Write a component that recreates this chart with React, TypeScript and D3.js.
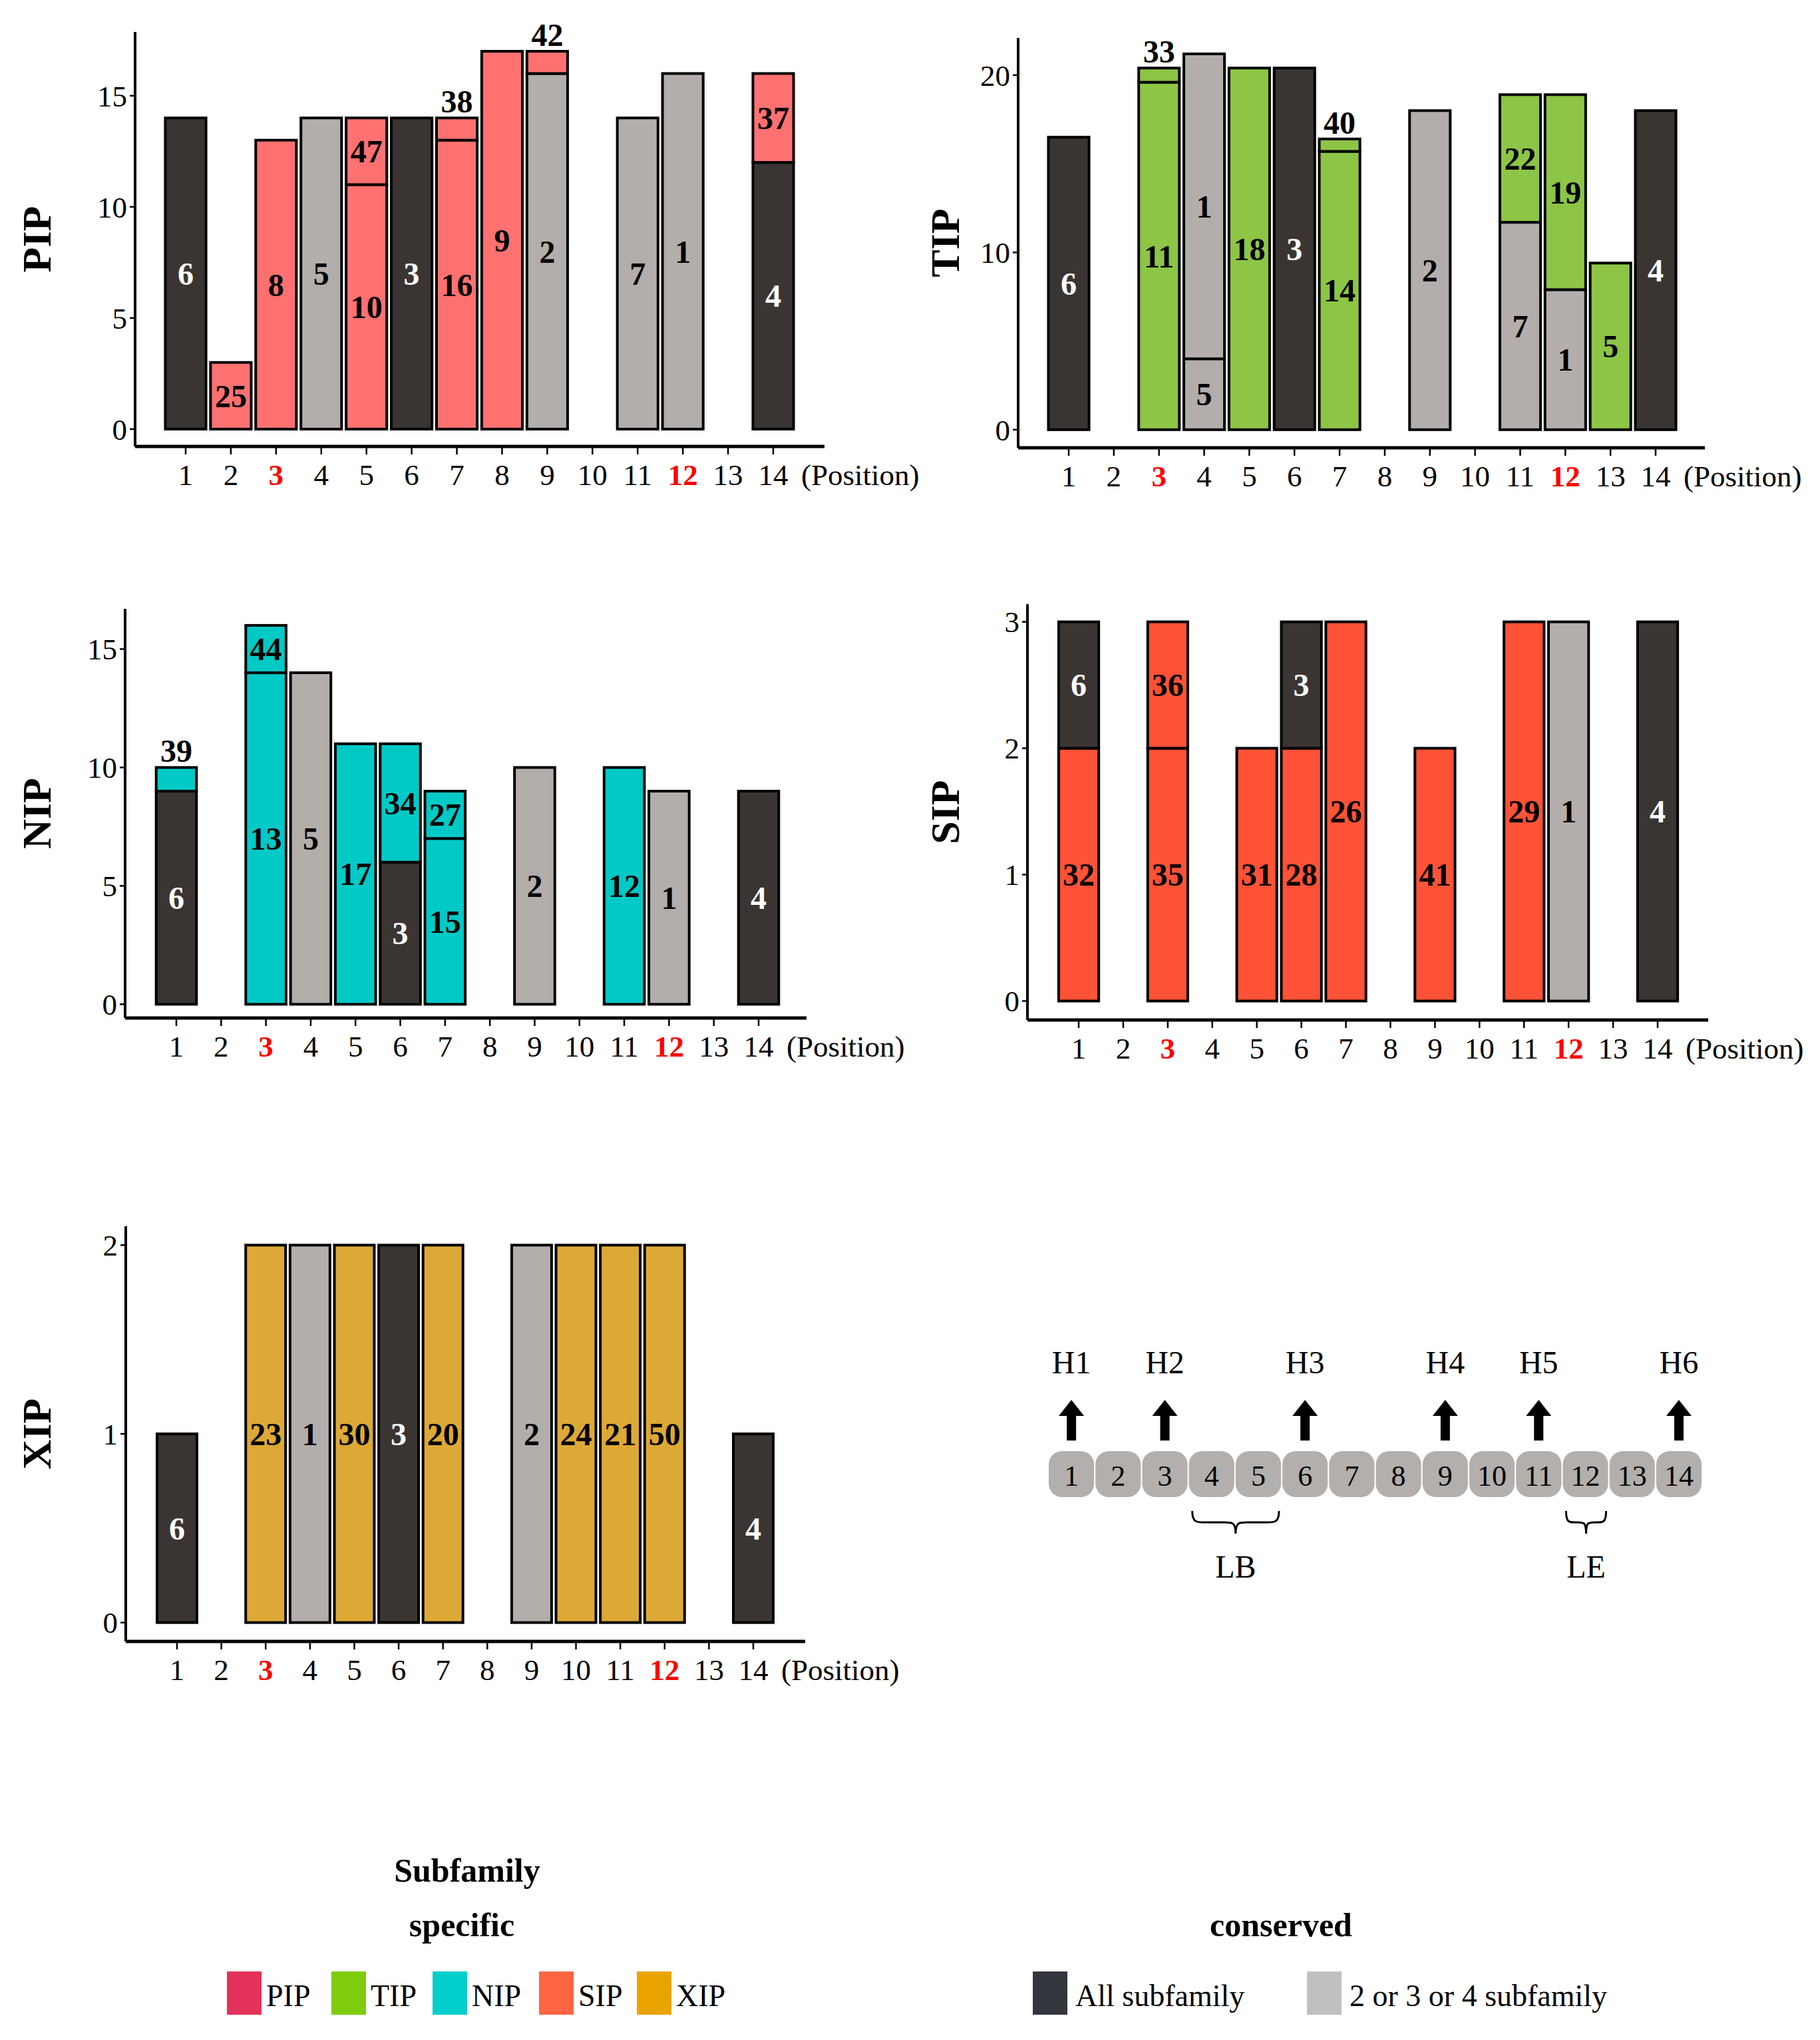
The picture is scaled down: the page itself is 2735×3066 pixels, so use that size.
import React from 'react';
import * as d3 from 'd3';

const FONT = "'Liberation Serif', 'Times New Roman', serif";

// x categories
const positions = ['1', '2', '3', '4', '5', '6', '7', '8', '9', '10', '11', '12', '13', '14'];
const redPositions = ['3', '12'];

// [position, count, kind, label] stacked bottom -> top
type Seg = [string, number, string, string];

const pipSegs: Seg[] = [
  ['1', 14, 'all', '6'],
  ['2', 3, 'spec', '25'],
  ['3', 13, 'spec', '8'],
  ['4', 14, 'some', '5'],
  ['5', 11, 'spec', '10'],
  ['5', 3, 'spec', '47'],
  ['6', 14, 'all', '3'],
  ['7', 13, 'spec', '16'],
  ['7', 1, 'spec', '38'],
  ['8', 17, 'spec', '9'],
  ['9', 16, 'some', '2'],
  ['9', 1, 'spec', '42'],
  ['11', 14, 'some', '7'],
  ['12', 16, 'some', '1'],
  ['14', 12, 'all', '4'],
  ['14', 4, 'spec', '37'],
];

const tipSegs: Seg[] = [
  ['1', 16.5, 'all', '6'],
  ['3', 19.6, 'spec', '11'],
  ['3', 0.8, 'spec', '33'],
  ['4', 4.0, 'some', '5'],
  ['4', 17.2, 'some', '1'],
  ['5', 20.4, 'spec', '18'],
  ['6', 20.4, 'all', '3'],
  ['7', 15.7, 'spec', '14'],
  ['7', 0.7, 'spec', '40'],
  ['9', 18.0, 'some', '2'],
  ['11', 11.7, 'some', '7'],
  ['11', 7.2, 'spec', '22'],
  ['12', 7.9, 'some', '1'],
  ['12', 11.0, 'spec', '19'],
  ['13', 9.4, 'spec', '5'],
  ['14', 18.0, 'all', '4'],
];

const nipSegs: Seg[] = [
  ['1', 9, 'all', '6'],
  ['1', 1, 'spec', '39'],
  ['3', 14, 'spec', '13'],
  ['3', 2, 'spec', '44'],
  ['4', 14, 'some', '5'],
  ['5', 11, 'spec', '17'],
  ['6', 6, 'all', '3'],
  ['6', 5, 'spec', '34'],
  ['7', 7, 'spec', '15'],
  ['7', 2, 'spec', '27'],
  ['9', 10, 'some', '2'],
  ['11', 10, 'spec', '12'],
  ['12', 9, 'some', '1'],
  ['14', 9, 'all', '4'],
];

const sipSegs: Seg[] = [
  ['1', 2, 'spec', '32'],
  ['1', 1, 'all', '6'],
  ['3', 2, 'spec', '35'],
  ['3', 1, 'spec', '36'],
  ['5', 2, 'spec', '31'],
  ['6', 2, 'spec', '28'],
  ['6', 1, 'all', '3'],
  ['7', 3, 'spec', '26'],
  ['9', 2, 'spec', '41'],
  ['11', 3, 'spec', '29'],
  ['12', 3, 'some', '1'],
  ['14', 3, 'all', '4'],
];

const xipSegs: Seg[] = [
  ['1', 1, 'all', '6'],
  ['3', 2, 'spec', '23'],
  ['4', 2, 'some', '1'],
  ['5', 2, 'spec', '30'],
  ['6', 2, 'all', '3'],
  ['7', 2, 'spec', '20'],
  ['9', 2, 'some', '2'],
  ['10', 2, 'spec', '24'],
  ['11', 2, 'spec', '21'],
  ['12', 2, 'spec', '50'],
  ['14', 1, 'all', '4'],
];

const pipTicks = [0, 5, 10, 15];
const tipTicks = [0, 10, 20];
const nipTicks = [0, 5, 10, 15];
const sipTicks = [0, 1, 2, 3];
const xipTicks = [0, 1, 2];

// legend
const specificLabels = ['PIP', 'TIP', 'NIP', 'SIP', 'XIP'];
const specificColors = ['#E3325A', '#7ECC0B', '#00CFCC', '#FF6545', '#EBA300'];
const conservedLabels = ['All subfamily', '2 or 3 or 4 subfamily'];
const conservedColors = ['#33363D', '#C0C0C0'];

// topology sketch
const helixPositions = ['1', '3', '6', '9', '11', '14'];
const helixLabels = ['H1', 'H2', 'H3', 'H4', 'H5', 'H6'];
const loopLabels = ['LB', 'LE'];
const loopSpans = [['4', '5'], ['12', '12']];

const kindFill: Record<string, string> = { all: '#3A3532', some: '#B3AEAB' };

interface Box {
  left: number; right: number; top: number; bottom: number;
  c1: number; c14: number; lo: number; hi: number; titleX: number;
}

const Panel: React.FC<{ title: string; segs: Seg[]; color: string; ticks: number[]; box: Box }> = ({
  title, segs, color, ticks, box,
}) => {
  const x = d3.scalePoint<string>().domain(positions).range([box.c1, box.c14]);
  const bw = x.step() * 0.9;
  const y = d3.scaleLinear().domain([box.lo, box.hi]).range([box.bottom, box.top]);

  // stack segments per position
  const acc: Record<string, number> = {};
  const rows = segs.map(([pos, v, kind, label]) => {
    const y0 = acc[pos] || 0;
    acc[pos] = y0 + v;
    return { pos, y0, y1: y0 + v, v, kind, label };
  });
  const maxTotal = d3.max(Object.values(acc)) || 1;
  const tops = acc;

  return (
    <g>
      {rows.map((r, i) => (
        <rect
          key={'b' + i}
          x={x(r.pos)! - bw / 2}
          y={y(r.y1)}
          width={bw}
          height={y(r.y0) - y(r.y1)}
          fill={r.kind === 'spec' ? color : kindFill[r.kind]}
          stroke="#000"
          strokeWidth={4}
        />
      ))}
      {rows.map((r, i) => {
        const above = r.v / maxTotal < 0.1;
        const cy = above ? y(tops[r.pos]) - 25 : y((r.y0 + r.y1) / 2);
        return (
          <text
            key={'l' + i}
            x={x(r.pos)}
            y={cy}
            dy="0.35em"
            textAnchor="middle"
            fontFamily={FONT}
            fontWeight="bold"
            fontSize={48}
            fill={!above && r.kind === 'all' ? '#fff' : '#000'}
          >
            {r.label}
          </text>
        );
      })}
      {/* axes */}
      <line x1={box.left} x2={box.left} y1={box.top} y2={box.bottom} stroke="#000" strokeWidth={4} />
      <line x1={box.left} x2={box.right} y1={box.bottom} y2={box.bottom} stroke="#000" strokeWidth={5} />
      {ticks.map((t) => (
        <g key={'yt' + t}>
          <line x1={box.left - 8} x2={box.left} y1={y(t)} y2={y(t)} stroke="#000" strokeWidth={2.5} />
          <text
            x={box.left - 12}
            y={y(t)}
            dy="0.35em"
            textAnchor="end"
            fontFamily={FONT}
            fontSize={45}
            fill="#000"
          >
            {t}
          </text>
        </g>
      ))}
      {positions.map((p) => {
        const red = redPositions.includes(p);
        return (
          <g key={'xt' + p}>
            <line x1={x(p)} x2={x(p)} y1={box.bottom} y2={box.bottom + 12} stroke="#000" strokeWidth={2.5} />
            <text
              x={x(p)}
              y={box.bottom + 58}
              textAnchor="middle"
              fontFamily={FONT}
              fontSize={45}
              fontWeight={red ? 'bold' : 'normal'}
              fill={red ? '#FF0000' : '#000'}
            >
              {p}
            </text>
          </g>
        );
      })}
      <text x={box.c14 + 42} y={box.bottom + 58} fontFamily={FONT} fontSize={45} fill="#000">
        (Position)
      </text>
      <text
        transform={`translate(${box.titleX},${(box.top + box.bottom) / 2}) rotate(-90)`}
        dy="0.35em"
        textAnchor="middle"
        fontFamily={FONT}
        fontWeight="bold"
        fontSize={62}
        fill="#000"
      >
        {title}
      </text>
    </g>
  );
};

function bracePath(x1: number, x2: number, yTop: number, h: number) {
  const m = (x1 + x2) / 2;
  const q = h / 2;
  const r = Math.min(q, (x2 - x1) / 5);
  return (
    `M${x1},${yTop} C${x1},${yTop + q} ${x1 + r * 0.4},${yTop + q} ${x1 + r},${yTop + q} ` +
    `L${m - r},${yTop + q} C${m - r * 0.3},${yTop + q} ${m},${yTop + q} ${m},${yTop + h} ` +
    `C${m},${yTop + q} ${m + r * 0.3},${yTop + q} ${m + r},${yTop + q} ` +
    `L${x2 - r},${yTop + q} C${x2 - r * 0.4},${yTop + q} ${x2},${yTop + q} ${x2},${yTop}`
  );
}

const Topology: React.FC = () => {
  const xb = d3.scaleBand<string>().domain(positions).range([1576, 2557]).paddingInner(0.03);
  const cx = (p: string) => xb(p)! + xb.bandwidth() / 2;
  const boxTop = 2181;
  const boxH = 69;
  return (
    <g fontFamily={FONT}>
      {positions.map((p) => (
        <g key={'r' + p}>
          <rect x={xb(p)} y={boxTop} width={xb.bandwidth()} height={boxH} rx={20} fill="#B3AFAC" />
          <text x={cx(p)} y={2233} textAnchor="middle" fontSize={44} fill="#000">
            {p}
          </text>
        </g>
      ))}
      {helixPositions.map((p, i) => {
        const c = cx(p);
        const tip = 2104;
        const head = 2128;
        const tail = 2165;
        return (
          <g key={'h' + p}>
            <path
              d={`M${c},${tip} L${c + 19},${head} L${c + 7},${head} L${c + 7},${tail} L${c - 7},${tail} L${c - 7},${head} L${c - 19},${head} Z`}
              fill="#000"
            />
            <text x={c} y={2064} textAnchor="middle" fontSize={48} fill="#000">
              {helixLabels[i]}
            </text>
          </g>
        );
      })}
      {loopSpans.map(([a, b], i) => {
        const x1 = xb(a)! + 5;
        const x2 = xb(b)! + xb.bandwidth() - 3;
        return (
          <g key={'lp' + i}>
            <path d={bracePath(x1, x2, 2271, 34)} fill="none" stroke="#000" strokeWidth={3} />
            <text x={(x1 + x2) / 2} y={2371} textAnchor="middle" fontSize={48} fill="#000">
              {loopLabels[i]}
            </text>
          </g>
        );
      })}
    </g>
  );
};

const Legend: React.FC = () => {
  const specX = [341, 498, 650, 810, 957];
  const consX = [1552, 1964];
  const keyTop = 2963;
  const keyH = 65;
  const keyW = 52;
  return (
    <g fontFamily={FONT}>
      <text x={702} y={2828} textAnchor="middle" fontSize={50} fontWeight="bold">Subfamily</text>
      <text x={694} y={2910} textAnchor="middle" fontSize={50} fontWeight="bold">specific</text>
      <text x={1925} y={2910} textAnchor="middle" fontSize={50} fontWeight="bold">conserved</text>
      {specificLabels.map((l, i) => (
        <g key={l}>
          <rect x={specX[i]} y={keyTop} width={keyW} height={keyH} fill={specificColors[i]} />
          <text x={specX[i] + keyW + 7} y={3015} fontSize={46}>{l}</text>
        </g>
      ))}
      {conservedLabels.map((l, i) => (
        <g key={l}>
          <rect x={consX[i]} y={keyTop} width={keyW} height={keyH} fill={conservedColors[i]} />
          <text x={consX[i] + keyW + 12} y={3015} fontSize={46}>{l}</text>
        </g>
      ))}
    </g>
  );
};

const App: React.FC = () => {
  return (
    <svg
      width={2735}
      height={3066}
      style={{ position: 'absolute', left: 0, top: 0, background: '#fff' }}
    >
      <rect width={2735} height={3066} fill="#fff" />
      <Panel
        title="PIP"
        segs={pipSegs}
        color="#FF7171"
        ticks={pipTicks}
        box={{ left: 203, right: 1239, top: 48, bottom: 671, c1: 279, c14: 1162, lo: -0.78, hi: 17.87, titleX: 54 }}
      />
      <Panel
        title="TIP"
        segs={tipSegs}
        color="#8DC546"
        ticks={tipTicks}
        box={{ left: 1530, right: 2562, top: 57, bottom: 673, c1: 1606, c14: 2488, lo: -1.02, hi: 22.1, titleX: 1419 }}
      />
      <Panel
        title="NIP"
        segs={nipSegs}
        color="#00C9C6"
        ticks={nipTicks}
        box={{ left: 188, right: 1212, top: 915, bottom: 1530, c1: 265, c14: 1140, lo: -0.58, hi: 16.7, titleX: 54 }}
      />
      <Panel
        title="SIP"
        segs={sipSegs}
        color="#FF5236"
        ticks={sipTicks}
        box={{ left: 1544, right: 2567, top: 908, bottom: 1533, c1: 1621, c14: 2491, lo: -0.15, hi: 3.14, titleX: 1419 }}
      />
      <Panel
        title="XIP"
        segs={xipSegs}
        color="#DDA936"
        ticks={xipTicks}
        box={{ left: 189, right: 1210, top: 1843, bottom: 2467, c1: 266, c14: 1132, lo: -0.1, hi: 2.1, titleX: 54 }}
      />
      <Topology />
      <Legend />
    </svg>
  );
};

export default App;
